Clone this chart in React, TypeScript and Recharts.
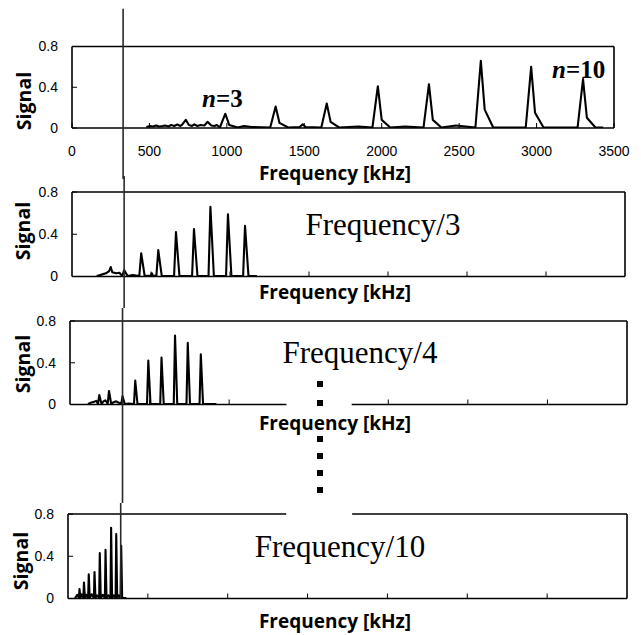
import React from "react";
import { Line, LineChart, ReferenceLine, XAxis, YAxis } from "recharts";

// fundamental frequency, marked by the vertical line through all panels (kHz)
const MARKER_FREQ = 330;

const xTicksFull = [0, 500, 1000, 1500, 2000, 2500, 3000, 3500];
const xTicksInner = [500, 1000, 1500, 2000, 2500, 3000];
const xTicksGap = [500, 1000, 2000, 2500, 3000];
const yTicks = [0, 0.4, 0.8];

// original spectrum, n = 3 .. 10
const peakFreq1 = [990, 1315, 1645, 1975, 2305, 2640, 2965, 3300];
const peakSignal1 = [0.14, 0.21, 0.24, 0.41, 0.43, 0.66, 0.6, 0.48];
const shoulder1 = [0.03, 0.05, 0.06, 0.08, 0.08, 0.18, 0.15, 0.1];
const noise1 = [
  [480, 0.01], [505, 0.02], [520, 0.015], [545, 0.025], [560, 0.015],
  [585, 0.02], [600, 0.025], [625, 0.015], [640, 0.03], [660, 0.02],
  [680, 0.035], [700, 0.02], [710, 0.03], [735, 0.08], [755, 0.03],
  [775, 0.02], [790, 0.035], [810, 0.02], [830, 0.03], [855, 0.025],
  [875, 0.06], [900, 0.025], [920, 0.02], [935, 0.03], [1110, 0.02],
  [1160, 0.01], [1470, 0.01], [1490, 0.035], [1510, 0.01], [1850, 0.015],
  [2150, 0.015], [2480, 0.025], [3430, 0.005],
];

// Frequency/3
const peakFreq2 = [330, 438, 546, 658, 772, 876, 987, 1095];
const peakSignal2 = [0.06, 0.22, 0.25, 0.42, 0.45, 0.66, 0.59, 0.48];
const noise2 = [
  [156, 0.005], [190, 0.02], [215, 0.03], [235, 0.05], [245, 0.09],
  [255, 0.04], [280, 0.03], [300, 0.035], [385, 0.015], [500, 0.01],
  [505, 0.03], [512, 0.01], [1170, 0.005],
];

// Frequency/4
const peakFreq3 = [184, 245, 330, 410, 492, 575, 660, 740, 822];
const peakSignal3 = [0.09, 0.13, 0.08, 0.23, 0.42, 0.45, 0.66, 0.59, 0.48];
const noise3 = [
  [113, 0.005], [135, 0.02], [150, 0.025], [165, 0.035], [210, 0.03],
  [222, 0.04], [232, 0.02], [270, 0.02], [290, 0.03], [310, 0.015],
  [370, 0.01], [920, 0.005],
];

// Frequency/10
const peakFreq4 = [72, 100, 130, 166, 199, 235, 270, 302, 333];
const peakSignal4 = [0.09, 0.15, 0.23, 0.25, 0.43, 0.46, 0.67, 0.61, 0.5];
const noise4 = [
  [44, 0.005], [52, 0.02], [58, 0.035], [63, 0.03], [85, 0.04], [90, 0.03],
  [115, 0.035], [148, 0.04], [182, 0.03], [218, 0.035], [252, 0.03],
  [287, 0.03], [318, 0.03], [365, 0.005],
];

type Pt = { f: number; s: number };

// peaks drawn as narrow tents between baseline feet
function buildSpectrum(
  noise: number[][],
  freqs: number[],
  signals: number[],
  shoulders: number[] | null,
  lw: number,
  rw: number
): Pt[] {
  const pts: Pt[] = noise.map(([f, s]) => ({ f, s }));
  freqs.forEach((f, i) => {
    pts.push({ f: f - lw, s: 0.005 });
    pts.push({ f, s: signals[i] });
    if (shoulders) pts.push({ f: f + 25, s: shoulders[i] });
    pts.push({ f: f + rw, s: 0.005 });
  });
  return pts.sort((a, b) => a.f - b.f);
}

const data1 = buildSpectrum(noise1, peakFreq1, peakSignal1, shoulder1, 35, 80);
const data2 = buildSpectrum(noise2, peakFreq2, peakSignal2, null, 12, 22);
const data3 = buildSpectrum(noise3, peakFreq3, peakSignal3, null, 8, 14);
const data4 = buildSpectrum(noise4, peakFreq4, peakSignal4, null, 4, 6);

const SANS = "'Liberation Sans', Arial, sans-serif";
const BOLD = "'Open Sans', 'Noto Sans', sans-serif";
const SERIF = "'Liberation Serif', 'Times New Roman', serif";

interface PanelProps {
  data: Pt[];
  top: number;
  height: number;
  plotTop: number;
  plotBottom: number;
  plotLeft: number;
  plotRight: number;
  ticks: number[];
  tickLabels?: boolean;
  topGap?: number[];
  bottomGap?: number[];
  markerY: [number, number];
  children?: React.ReactNode;
}

const spans = (gap?: number[]) =>
  gap ? [[0, gap[0]], [gap[1], 3500]] : [[0, 3500]];

const Panel = ({
  data,
  top,
  height,
  plotTop,
  plotBottom,
  plotLeft,
  plotRight,
  ticks,
  tickLabels,
  topGap,
  bottomGap,
  markerY,
  children,
}: PanelProps) => {
  const axisH = 30;
  return (
    <div style={{ position: "absolute", left: 0, top, width: 641, height }}>
      <LineChart
        width={641}
        height={height}
        data={data}
        margin={{
          top: plotTop - top,
          right: 641 - plotRight,
          bottom: top + height - plotBottom - axisH,
          left: 0,
        }}
      >
        <XAxis
          dataKey="f"
          type="number"
          domain={[0, 3500]}
          allowDataOverflow
          ticks={ticks}
          interval={0}
          height={axisH}
          axisLine={false}
          tickLine={{ stroke: "#000", strokeWidth: 1 }}
          tickSize={-5}
          tickMargin={23}
          tick={{ fontSize: 14, fill: "#000", fontFamily: SANS }}
          tickFormatter={tickLabels ? (v) => String(v) : () => ""}
        />
        <YAxis
          type="number"
          domain={[0, 0.8]}
          allowDataOverflow
          ticks={yTicks}
          interval={0}
          width={plotLeft}
          axisLine={{ stroke: "#000", strokeWidth: 1.6 }}
          tickLine={{ stroke: "#000", strokeWidth: 1 }}
          tickSize={-5}
          tickMargin={19}
          tick={{ fontSize: 14, fill: "#000", fontFamily: SANS }}
        />
        {spans(topGap).map(([a, b]) => (
          <ReferenceLine
            key={`t${a}`}
            segment={[{ x: a, y: 0.8 }, { x: b, y: 0.8 }]}
            stroke="#000"
            strokeWidth={1.7}
          />
        ))}
        {spans(bottomGap).map(([a, b]) => (
          <ReferenceLine
            key={`b${a}`}
            segment={[{ x: a, y: 0 }, { x: b, y: 0 }]}
            stroke="#000"
            strokeWidth={1.7}
          />
        ))}
        <ReferenceLine x={3500} stroke="#000" strokeWidth={1.6} />
        <Line
          dataKey="s"
          type="linear"
          stroke="#000"
          strokeWidth={2.1}
          strokeLinejoin="round"
          dot={false}
          isAnimationActive={false}
        />
        <ReferenceLine
          segment={[
            { x: MARKER_FREQ, y: markerY[0] },
            { x: MARKER_FREQ, y: markerY[1] },
          ]}
          ifOverflow="visible"
          stroke="#2a2a2a"
          strokeWidth={1.6}
        />
        <g transform={`translate(0, ${-top})`}>{children}</g>
      </LineChart>
    </div>
  );
};

const Signal = ({ x, y }: { x: number; y: number }) => (
  <text
    x={x}
    y={y}
    transform={`rotate(-90, ${x}, ${y})`}
    textAnchor="middle"
    dominantBaseline="central"
    fontFamily={BOLD}
    fontWeight="bold"
    fontSize={19.5}
    fill="#000"
  >
    Signal
  </text>
);

const FreqLabel = ({ y }: { y: number }) => (
  <text
    x={335}
    y={y}
    textAnchor="middle"
    fontFamily={BOLD}
    fontWeight="bold"
    fontSize={19}
    fill="#000"
  >
    Frequency [kHz]
  </text>
);

const Title = ({ x, y, text }: { x: number; y: number; text: string }) => (
  <text x={x} y={y} textAnchor="middle" fontFamily={SERIF} fontSize={31} fill="#000">
    {text}
  </text>
);

const Order = ({ x, y, n }: { x: number; y: number; n: number }) => (
  <text x={x} y={y} fontFamily={SERIF} fontWeight="bold" fontSize={25} fill="#000">
    <tspan fontStyle="italic">n</tspan>={n}
  </text>
);

const dotRows = [384, 403, 439, 456, 473, 490];

export default function App() {
  return (
    <div
      style={{
        position: "absolute",
        left: 0,
        top: 0,
        width: 641,
        height: 635,
        background: "#fff",
      }}
    >
      <Panel
        data={data1}
        top={0}
        height={190}
        plotTop={46.5}
        plotBottom={128}
        plotLeft={72}
        plotRight={614}
        ticks={xTicksFull}
        tickLabels
        markerY={[-0.5, 1.17]}
      >
        <Signal x={23} y={101} />
        <FreqLabel y={180} />
        <Order x={202} y={107} n={3} />
        <Order x={552} y={78} n={10} />
      </Panel>
      <Panel
        data={data2}
        top={176}
        height={132}
        plotTop={192}
        plotBottom={276.5}
        plotLeft={72}
        plotRight={625}
        ticks={xTicksInner}
        markerY={[-1, 2]}
      >
        <Signal x={22} y={231} />
        <FreqLabel y={299} />
        <Title x={383} y={235} text="Frequency/3" />
      </Panel>
      <Panel
        data={data3}
        top={308}
        height={195}
        plotTop={321}
        plotBottom={404.5}
        plotLeft={70}
        plotRight={627}
        ticks={xTicksGap}
        bottomGap={[1360, 1770]}
        markerY={[-1.5, 2]}
      >
        <Signal x={22} y={364} />
        <FreqLabel y={430} />
        <Title x={360} y={363} text="Frequency/4" />
        {dotRows.map((y) => (
          <rect key={y} x={317} y={y - 3} width={6} height={6} fill="#000" />
        ))}
      </Panel>
      <Panel
        data={data4}
        top={503}
        height={132}
        plotTop={514}
        plotBottom={598.5}
        plotLeft={68}
        plotRight={627}
        ticks={xTicksInner}
        topGap={[1366, 1779]}
        markerY={[0, 2]}
      >
        <Signal x={20} y={561} />
        <FreqLabel y={628} />
        <Title x={340} y={557} text="Frequency/10" />
      </Panel>
    </div>
  );
}
